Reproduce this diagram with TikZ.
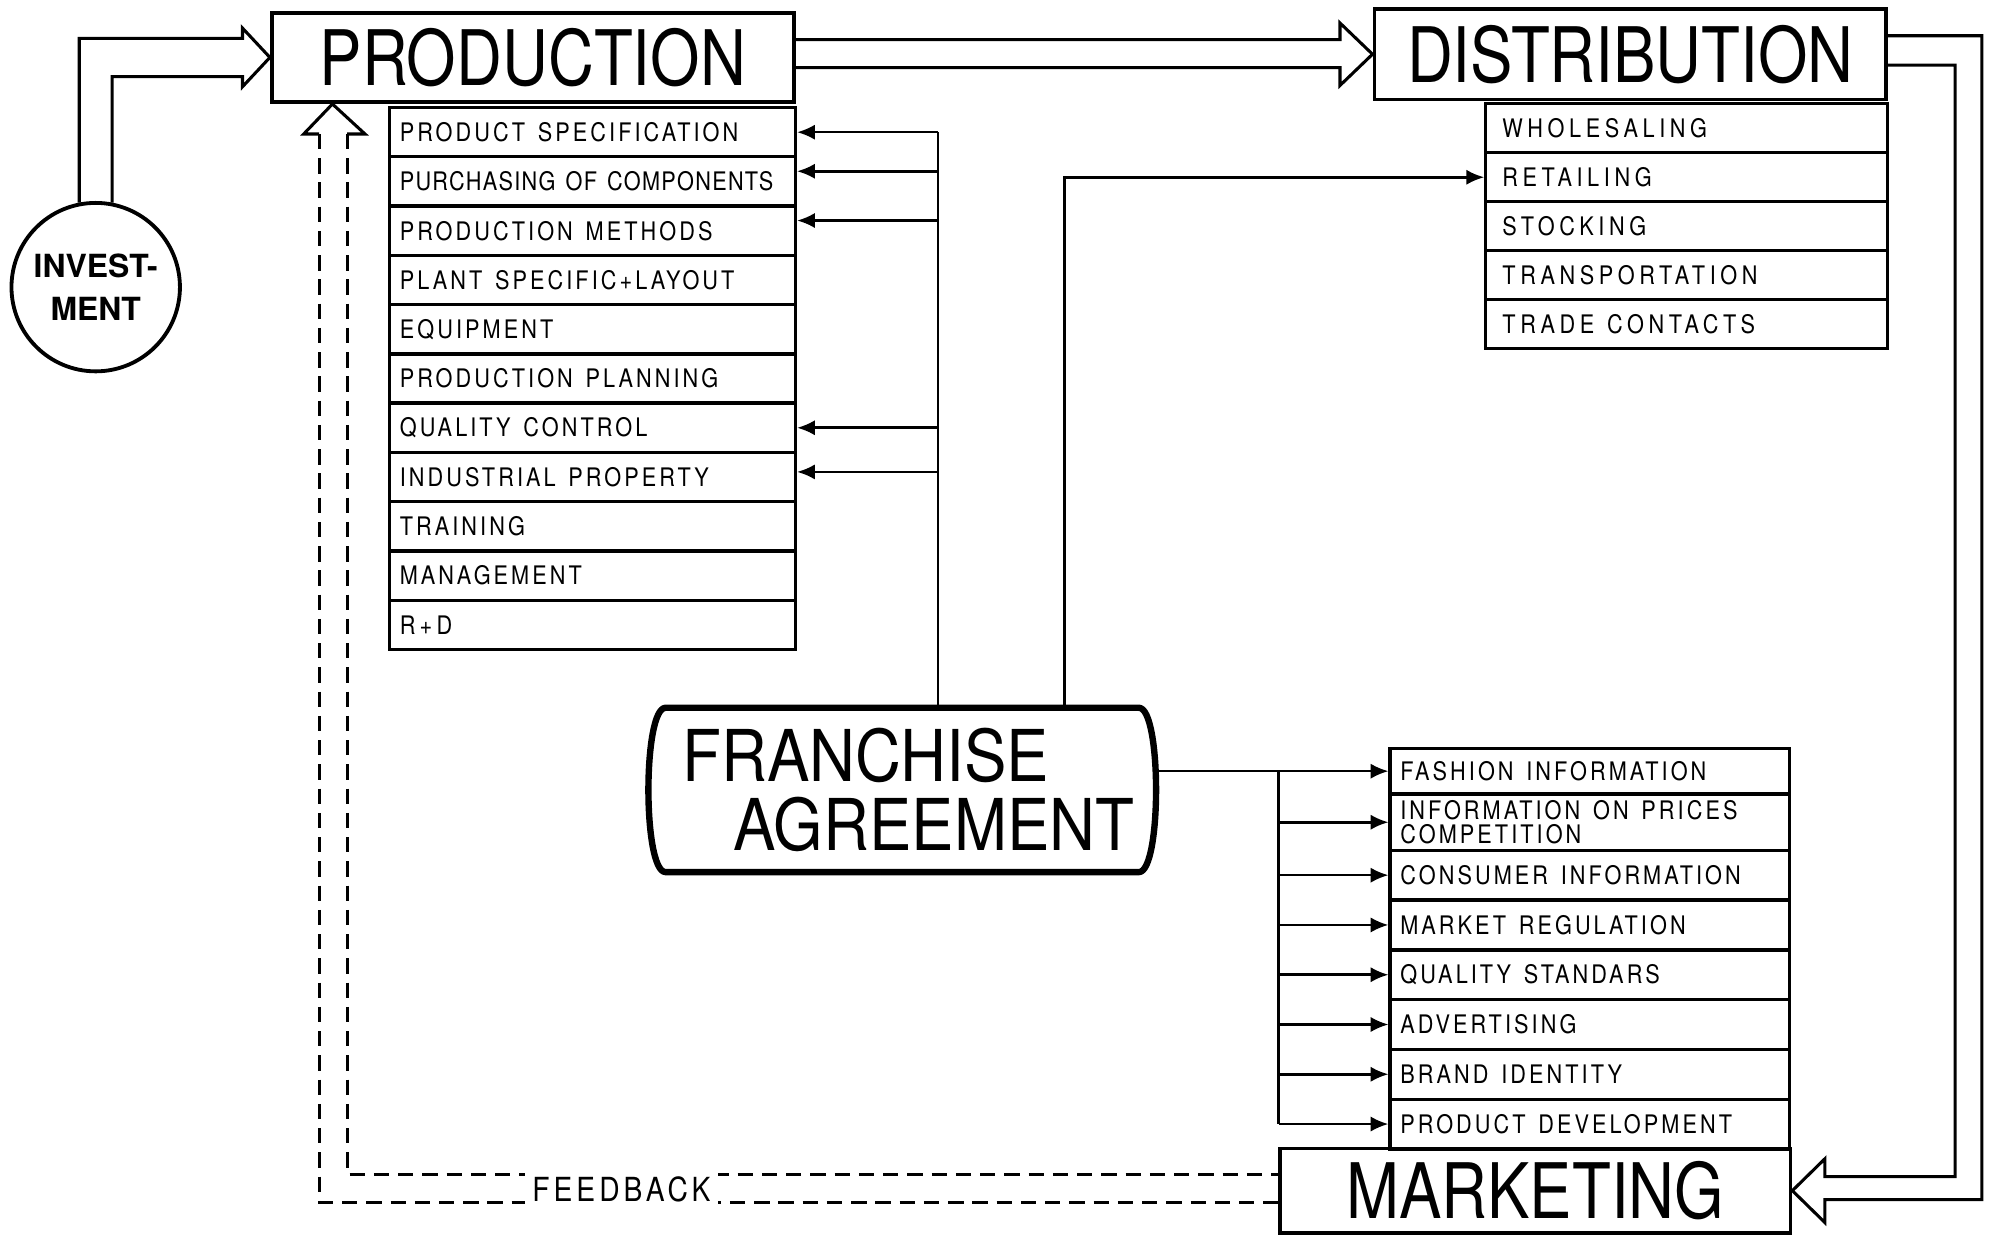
\documentclass[tikz,border=0pt]{standalone}
\usepackage{xcolor}
\usepackage{fontspec}
\setmainfont{TeX Gyre Heros}
\newfontfamily\titlefont[FakeStretch=0.83]{TeX Gyre Heros}
\newfontfamily\bigtitlefont[FakeStretch=0.89]{TeX Gyre Heros}
\newfontfamily\itemfont[FakeStretch=0.85,LetterSpace=12]{TeX Gyre Heros}
\newfontfamily\wideitemfont[FakeStretch=0.85,LetterSpace=18]{TeX Gyre Heros}
\newcommand{\wordgap}{\spaceskip=5pt plus 1pt\relax}
\usetikzlibrary{arrows.meta}

\begin{document}
\begin{tikzpicture}[x=0.5pt,y=-0.5pt,line join=miter,
                headbox/.style={draw,line width=1.5pt,inner sep=0pt,font=\titlefont\fontsize{30}{30}\selectfont},
                pitem/.style={draw,line width=1.3pt,anchor=north west,minimum width=159pt,minimum height=19.3pt,inner xsep=4pt,inner ysep=0pt,text width=151pt,align=left,font=\itemfont\fontsize{10}{9.5}\selectfont,execute at begin node=\wordgap},
                ditem/.style={pitem,minimum width=157.5pt,minimum height=19.2pt,inner xsep=6.5pt,text width=144.5pt,font=\wideitemfont\fontsize{10}{9.5}\selectfont},
                mitem/.style={pitem,minimum width=156.5pt,minimum height=19.5pt,text width=148.5pt},
                conn/.style={line width=1pt},
                connarrow/.style={conn,-{Latex[length=7pt,width=6pt]}},
                dblline/.style={line width=1.2pt},
                fbline/.style={dblline,dash pattern=on 6pt off 3.5pt}]
                \useasboundingbox (0,0) rectangle (1568,968.6);

                \node[headbox,minimum width=204.5pt,minimum height=35pt] (prod) at (417.5,45) {PRODUCTION};
                \node[headbox,minimum width=200.5pt,minimum height=35.5pt] (dist) at (1277.5,42.5) {DISTRIBUTION};
                \node[headbox,minimum width=200pt,minimum height=33pt] (mark) at (1203,933) {MARKETING};

                \node[draw,circle,line width=1.5pt,minimum size=66pt,inner sep=0pt,align=center,font=\bfseries\fontsize{12.5}{17}\selectfont] (inv) at (75,225) {INVEST-\\MENT};

                \node[pitem] (ps) at (304,83) {PRODUCT SPECIFICATION};
                \node[pitem] (pc) at (304,121.6) {\addfontfeatures{LetterSpace=5}\spaceskip=4pt\relax PURCHASING OF COMPONENTS};
                \node[pitem] (pm) at (304,160.2) {PRODUCTION METHODS};
                \node[pitem] (pl) at (304,198.8) {PLANT SPECIFIC+LAYOUT};
                \node[pitem] (pe) at (304,237.4) {EQUIPMENT};
                \node[pitem] (pp) at (304,276) {PRODUCTION PLANNING};
                \node[pitem] (pq) at (304,314.6) {QUALITY CONTROL};
                \node[pitem] (pip) at (304,353.2) {INDUSTRIAL PROPERTY};
                \node[pitem] (ptr) at (304,391.8) {TRAINING};
                \node[pitem] (pg) at (304,430.4) {MANAGEMENT};
                \node[pitem] (prd) at (304,469) {R\,+\,D};

                \node[ditem] (dw) at (1163,80) {WHOLESALING};
                \node[ditem] (dr) at (1163,118.4) {RETAILING};
                \node[ditem] (ds) at (1163,156.8) {STOCKING};
                \node[ditem] (dt) at (1163,195.2) {TRANSPORTATION};
                \node[ditem] (dc) at (1163,233.6) {TRADE CONTACTS};

                \node[mitem,minimum height=18pt] (mf) at (1088,585) {FASHION INFORMATION};
                \node[mitem,minimum height=22pt] (mi) at (1088,621) {INFORMATION ON PRICES\\COMPETITION};
                \node[mitem] (mc) at (1088,665) {CONSUMER INFORMATION};
                \node[mitem] (mr) at (1088,704) {MARKET REGULATION};
                \node[mitem] (mq) at (1088,743) {QUALITY STANDARS};
                \node[mitem] (ma) at (1088,782) {ADVERTISING};
                \node[mitem] (mb) at (1088,821) {BRAND IDENTITY};
                \node[mitem] (md) at (1088,860) {PRODUCT DEVELOPMENT};

                \node[minimum width=185pt,minimum height=64pt,inner xsep=6.5pt,text width=172pt,align=left,font=\bigtitlefont\fontsize{28}{27}\selectfont] (fa) at (707,619) {\mbox{FRANCHISE}\\\hspace*{20pt}\mbox{AGREEMENT}};
                \draw[line width=2.5pt,line join=round] (fa.north west) -- (fa.north east) .. controls ([xshift=9pt]fa.north east) and ([xshift=9pt]fa.south east) .. (fa.south east) -- (fa.south west) .. controls ([xshift=-9pt]fa.south west) and ([xshift=-9pt]fa.north west) .. (fa.north west) -- cycle;

                \coordinate (pbus) at (735,0);
                \coordinate (dbus) at (834,0);
                \coordinate (mbus) at (1002,0);
                \coordinate (pcin) at ([yshift=4pt]pc.east);
                \coordinate (pmin) at ([yshift=4pt]pm.east);
                \coordinate (piin) at ([yshift=2pt]pip.east);
                \coordinate (fr) at ([xshift=6.5pt]fa.east);

                \draw[conn] (pbus |- fa.north) -- (pbus |- ps.east);
                \draw[connarrow] (pbus |- ps.east) -- (ps.east);
                \draw[connarrow] (pbus |- pcin) -- (pcin);
                \draw[connarrow] (pbus |- pmin) -- (pmin);
                \draw[connarrow] (pbus |- pq.east) -- (pq.east);
                \draw[connarrow] (pbus |- piin) -- (piin);

                \draw[connarrow] (dbus |- fa.north) |- (dr.west);

                \draw[connarrow] (fr |- mf.west) -- (mf.west);
                \draw[conn] (mbus |- mf.west) -- (mbus |- md.west);
                \draw[connarrow] (mbus |- mi.west) -- (mi.west);
                \draw[connarrow] (mbus |- mc.west) -- (mc.west);
                \draw[connarrow] (mbus |- mr.west) -- (mr.west);
                \draw[connarrow] (mbus |- mq.west) -- (mq.west);
                \draw[connarrow] (mbus |- ma.west) -- (ma.west);
                \draw[connarrow] (mbus |- mb.west) -- (mb.west);
                \draw[connarrow] (mbus |- md.west) -- (md.west);

                \draw[dblline] (inv.101) |- (190,30) -- (190,22) -- (prod.west) -- (190,68) -- (190,60) -| (inv.79);
                \draw[dblline] ([yshift=7pt]prod.east) -- (1050,31) -- (1050,18) -- (dist.west) -- (1050,67) -- (1050,53) -- ([yshift=-4pt]prod.east);
                \draw[dblline] ([yshift=7.25pt]dist.east) -| (1553,940) -- (1430,940) -- (1430,958) -- (mark.east) -- (1430,908) -- (1430,922) -| (1532,51) -- ([yshift=-4.25pt]dist.east);

                \draw[dblline] (250,105) -- (238,105) -- ([xshift=24.5pt]prod.south west) -- (286,105) -- (272,105);
                \draw[fbline] (272,105) |- ([yshift=6.5pt]mark.west);
                \draw[fbline] (250,105) |- ([yshift=-4.5pt]mark.west);
                \node[fill=white,inner xsep=3pt,font=\itemfont\fontsize{13}{13}\selectfont] (fb) at (487,932) {FEEDBACK};
            \end{tikzpicture}
\end{document}
